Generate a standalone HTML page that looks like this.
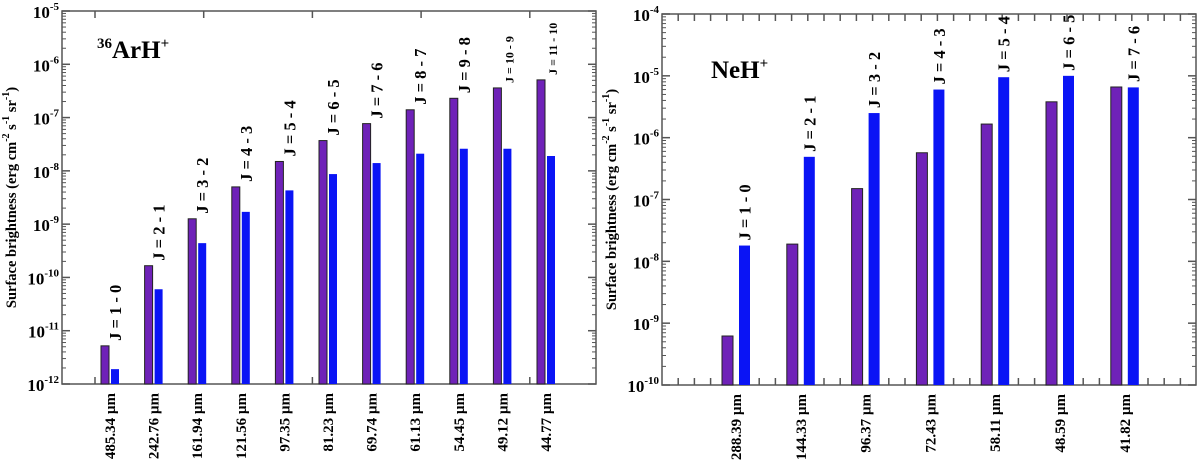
<!DOCTYPE html>
<html><head><meta charset="utf-8"><style>
body{margin:0;background:#fff}
svg text{font-family:"Liberation Serif",serif;font-weight:bold;fill:#000}
</style></head><body>
<svg id="c" width="1200" height="461" viewBox="0 0 1200 461" xmlns="http://www.w3.org/2000/svg"></svg>
<script>
const arCategories=["485.34 \u00b5m","242.76 \u00b5m","161.94 \u00b5m","121.56 \u00b5m","97.35 \u00b5m","81.23 \u00b5m","69.74 \u00b5m","61.13 \u00b5m","54.45 \u00b5m","49.12 \u00b5m","44.77 \u00b5m"];
const arTransitions=["J = 1 - 0","J = 2 - 1","J = 3 - 2","J = 4 - 3","J = 5 - 4","J = 6 - 5","J = 7 - 6","J = 8 - 7","J = 9 - 8","J = 10 - 9","J = 11 - 10"];
const arPurple=[5.2e-12,1.66e-10,1.26e-9,5e-9,1.5e-8,3.7e-8,7.7e-8,1.4e-7,2.3e-7,3.6e-7,5.1e-7];
const arBlue=[1.9e-12,6e-11,4.4e-10,1.7e-9,4.3e-9,8.7e-9,1.4e-8,2.1e-8,2.6e-8,2.6e-8,1.9e-8];
const neCategories=["288.39 \u00b5m","144.33 \u00b5m","96.37 \u00b5m","72.43 \u00b5m","58.11 \u00b5m","48.59 \u00b5m","41.82 \u00b5m"];
const neTransitions=["J = 1 - 0","J = 2 - 1","J = 3 - 2","J = 4 - 3","J = 5 - 4","J = 6 - 5","J = 7 - 6"];
const nePurple=[6.2e-10,1.9e-8,1.5e-7,5.7e-7,1.66e-6,3.8e-6,6.6e-6];
const neBlue=[1.8e-8,4.9e-7,2.5e-6,6e-6,9.5e-6,1e-5,6.5e-6];
const arYTicks=[-12,-11,-10,-9,-8,-7,-6,-5];
const neYTicks=[-10,-9,-8,-7,-6,-5,-4];

const svg=document.getElementById('c');
const NS='http://www.w3.org/2000/svg';
function el(t,a,p){const e=document.createElementNS(NS,t);for(const k in a)e.setAttribute(k,a[k]);(p||svg).appendChild(e);return e;}

function panel(o){
  const g=el('g',{});
  
  
  const lo=o.yTicks[0],hi=o.yTicks[o.yTicks.length-1];
  const y=v=>o.y1-(Math.log10(v)-lo)/(hi-lo)*(o.y1-o.y0);
  const yl=l=>o.y1-(l-lo)/(hi-lo)*(o.y1-o.y0);
  const xc=i=>o.x0+o.first+i*o.step;
  const fr=el('rect',{x:o.x0,y:o.y0,width:o.x1-o.x0,height:o.y1-o.y0,fill:'none',stroke:'#555','stroke-width':1.5},g);
  
  for(let k=0;k<o.yTicks.length;k++){
    const l=o.yTicks[k],yy=yl(l);
    el('line',{x1:o.x0,x2:o.x0+8,y1:yy,y2:yy,stroke:'#555','stroke-width':1.5},g);
    el('line',{x1:o.x1,x2:o.x1-8,y1:yy,y2:yy,stroke:'#555','stroke-width':1.5},g);
    const t=el('text',{x:o.x0-3,y:yy+7,'text-anchor':'end','font-size':17},g);
    
    t.textContent='10';
    const s=el('tspan',{dy:-8,'font-size':11},t);s.textContent=String(l);
    if(k<o.yTicks.length-1){
      for(let m=2;m<10;m++){const ym=y(m*Math.pow(10,l));
        el('line',{x1:o.x0,x2:o.x0+4,y1:ym,y2:ym,stroke:'#555','stroke-width':1},g);
        el('line',{x1:o.x1,x2:o.x1-4,y1:ym,y2:ym,stroke:'#555','stroke-width':1},g);}
    }
  }
  for(let xx=o.xt0;xx<o.x1-2;xx+=o.xts){
    el('line',{x1:xx,x2:xx,y1:o.y0,y2:o.y0+7,stroke:'#555','stroke-width':1.5},g);
    el('line',{x1:xx,x2:xx,y1:o.y1,y2:o.y1-7,stroke:'#555','stroke-width':1.5},g);
  }
  for(let i=0;i<o.cats.length;i++){
    const px=xc(i);
    const b1=el('rect',{x:px,y:y(o.purple[i]),width:o.bw,height:o.y1-y(o.purple[i]),fill:'#6f22b8',stroke:'#222','stroke-width':1},g);
    
    const bx=px+o.bw+o.gap;
    const b2=el('rect',{x:bx,y:y(o.blue[i]),width:o.bw,height:o.y1-y(o.blue[i]),fill:'#0a14f5'},g);
    
    const top=Math.min(y(o.purple[i]),y(o.blue[i]));
    const small=o.cats.length>7&&i>=9;
    const lx=bx+o.bw/2+6, ly=top-5;
    const tl=el('text',{x:lx,y:ly,'font-size':small?12:16.5,transform:`rotate(-90 ${lx} ${ly})`},g);
    
    tl.textContent=o.trans[i];
    const cx=px+o.bw+o.gap/2+5;
    const xl=el('text',{x:cx,y:o.y1+9,'text-anchor':'end','font-size':15,transform:`rotate(-90 ${cx} ${o.y1+9})`},g);
    
    xl.textContent=o.cats[i];
  }
  const tx=o.x0-46, ty=(o.y0+o.y1)/2;
  const yt=el('text',{x:tx,y:ty,'text-anchor':'middle','font-size':14.5,transform:`rotate(-90 ${tx} ${ty})`},g);
  
  yt.innerHTML='Surface brightness (erg cm<tspan dy="-7" font-size="10">-2</tspan><tspan dy="7"> s</tspan><tspan dy="-7" font-size="10">-1</tspan><tspan dy="7"> sr</tspan><tspan dy="-7" font-size="10">-1</tspan><tspan dy="7">)</tspan>';
  const ti=el('text',{x:o.tx,y:o.ty,'font-size':25},g);
  
  ti.innerHTML=o.title;
}
panel({name:'arh-panel',x0:62,x1:596,y0:11,y1:384,yTicks:arYTicks,cats:arCategories,trans:arTransitions,purple:arPurple,blue:arBlue,
  first:39,step:43.6,bw:8,gap:2,xt0:95,xts:108.7,tx:97,ty:58,
  title:'<tspan dy="-10" font-size="15">36</tspan><tspan dy="10">ArH</tspan><tspan dy="-10" font-size="15">+</tspan>'});
panel({name:'neh-panel',x0:662,x1:1196,y0:14,y1:385,yTicks:neYTicks,cats:neCategories,trans:neTransitions,purple:nePurple,blue:neBlue,
  first:60,step:64.8,bw:11,gap:6,xt0:678.2,xts:16.2,tx:711,ty:78,
  title:'NeH<tspan dy="-10" font-size="15">+</tspan>'});
</script>
</body></html>
